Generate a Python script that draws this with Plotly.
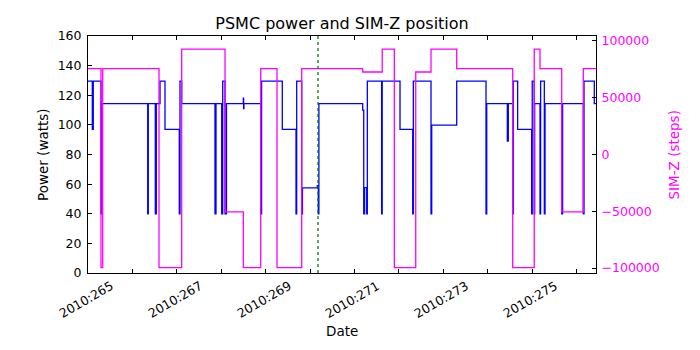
import plotly.graph_objects as go

# ---- data (day of year 2010) ----
power_t = [265.000, 265.097, 265.119, 265.293, 265.309,
           266.345, 266.358, 266.516, 266.538, 266.622, 266.734,
           267.056, 267.072, 267.110, 267.860, 267.883,
           268.011, 268.034, 268.086, 268.119, 268.498, 268.505, 268.512,
           268.890, 268.910, 269.376, 269.685, 269.700, 269.813, 269.830,
           270.164, 270.187, 270.200,
           271.187, 271.210, 271.230, 271.277, 271.291, 271.613, 271.626,
           272.027, 272.313, 272.327, 272.725, 272.741,
           273.304, 273.964, 273.980,
           274.444, 274.466, 274.565, 274.577, 274.676, 274.991,
           275.005, 275.050, 275.060, 275.180, 275.194, 275.277, 275.293,
           275.669, 275.689, 276.155, 276.171, 276.403]
power_w = [129.5, 97, 129.5, 40, 114.4,
           40, 114.4, 40, 114.4, 129.5, 97,
           40, 129.5, 114.4, 40, 114.4,
           40, 129.5, 40, 114.4, 118, 111, 114.4,
           40, 129.5, 97, 40, 129.5, 40, 57.5,
           59, 40, 114.4,
           110, 40, 57.7, 40, 129.5, 40, 129.5,
           97, 40, 129.5, 40, 99.8,
           129.5, 40, 114.4,
           89, 114.4, 40, 129.5, 97, 40,
           129.5, 40, 114.4, 40, 129.5, 40, 114.4,
           40, 114.4, 40, 129.5, 114.4]

simz_t = [265.000, 265.293, 265.331, 266.599, 267.110, 268.086, 268.498,
          268.890, 269.257, 269.813, 271.187, 271.626, 271.899, 272.381,
          272.725, 273.304, 274.565, 275.050, 275.180, 275.669, 276.155]
simz_v = [75624, -99616, 75624, -99616, 92904, -50505, -99616,
          75624, -99616, 75624, 72700, 92904, -99616, 72700,
          92904, 75624, -99616, 92904, 75624, -50505, 75624]

x_start = 265.0
x_end = 276.441
event_days = [270.18]

day_ticks = list(range(265, 277))
label_days = [265, 267, 269, 271, 273, 275]
label_text = ["2010:%d" % d for d in label_days]
power_ticks = [0, 20, 40, 60, 80, 100, 120, 140, 160]
simz_ticks = [-100000, -50000, 0, 50000, 100000]
simz_labels = ["\u2212100000", "\u221250000", "0", "50000", "100000"]

FONT = "DejaVu Sans"
BLUE = "#0000ff"
MAG = "#ff00ff"

fig = go.Figure()
fig.add_trace(go.Scatter(x=power_t + [x_end], y=power_w + [power_w[-1]],
                         mode="lines", line=dict(color=BLUE, width=1.3, shape="hv"),
                         yaxis="y", showlegend=False))
fig.add_trace(go.Scatter(x=simz_t + [x_end], y=simz_v + [simz_v[-1]],
                         mode="lines", line=dict(color=MAG, width=1.3, shape="hv"),
                         yaxis="y2", showlegend=False))
for d in event_days:
    fig.add_shape(type="line", xref="x", yref="paper", x0=d, x1=d, y0=0, y1=1,
                  line=dict(color="#008000", width=1.3, dash="dot"))

annotations = []
for d, t in zip(label_days, label_text):
    annotations.append(dict(x=d, xref="x", y=0, yref="paper", yshift=-26, xshift=-2,
                            text=t, showarrow=False, textangle=-30,
                            xanchor="center", yanchor="middle",
                            font=dict(family=FONT, size=12.5, color="black")))
annotations.append(dict(x=0.5, xref="paper", y=-0.2447, yref="paper", text="Date",
                        showarrow=False, xanchor="center", yanchor="middle",
                        font=dict(family=FONT, size=13.5, color="black")))
annotations.append(dict(x=-0.0896, xref="paper", y=0.5, yref="paper", text="Power (watts)",
                        showarrow=False, xanchor="center", yanchor="middle", textangle=-90,
                        font=dict(family=FONT, size=13.5, color="black")))
annotations.append(dict(x=1.1535, xref="paper", y=0.5, yref="paper", text="SIM-Z (steps)",
                        showarrow=False, xanchor="center", yanchor="middle", textangle=-90,
                        font=dict(family=FONT, size=13.5, color=MAG)))

fig.update_layout(
    width=700, height=350,
    margin=dict(l=88, r=104, t=36, b=77),
    paper_bgcolor="white", plot_bgcolor="white",
    font=dict(family=FONT, size=12.5, color="black"),
    title=dict(text="PSMC power and SIM-Z position", x=0.5, xref="paper",
               y=0.934, yref="container", xanchor="center", yanchor="middle",
               font=dict(family=FONT, size=16, color="black")),
    xaxis=dict(range=[x_start, x_end], tickvals=day_ticks, showticklabels=False,
               ticks="inside", ticklen=4, tickcolor="black", showline=True,
               linecolor="black", linewidth=1, mirror="ticks", showgrid=False,
               zeroline=False),
    yaxis=dict(range=[0, 160], tickvals=power_ticks, ticks="inside", ticklen=4,
               tickcolor="black", showline=True, linecolor="black", linewidth=1,
               showgrid=False, zeroline=False, ticklabelstandoff=3,
               tickfont=dict(family=FONT, size=12.5, color="black")),
    yaxis2=dict(range=[-104400, 104400], tickvals=simz_ticks, ticktext=simz_labels,
                overlaying="y", side="right", ticks="inside", ticklen=4,
                tickcolor="black", showline=True, linecolor="black", linewidth=1,
                showgrid=False, zeroline=False, ticklabelstandoff=2,
                tickfont=dict(family=FONT, size=12.5, color=MAG)),
    annotations=annotations,
)

fig.write_html("out.html")
